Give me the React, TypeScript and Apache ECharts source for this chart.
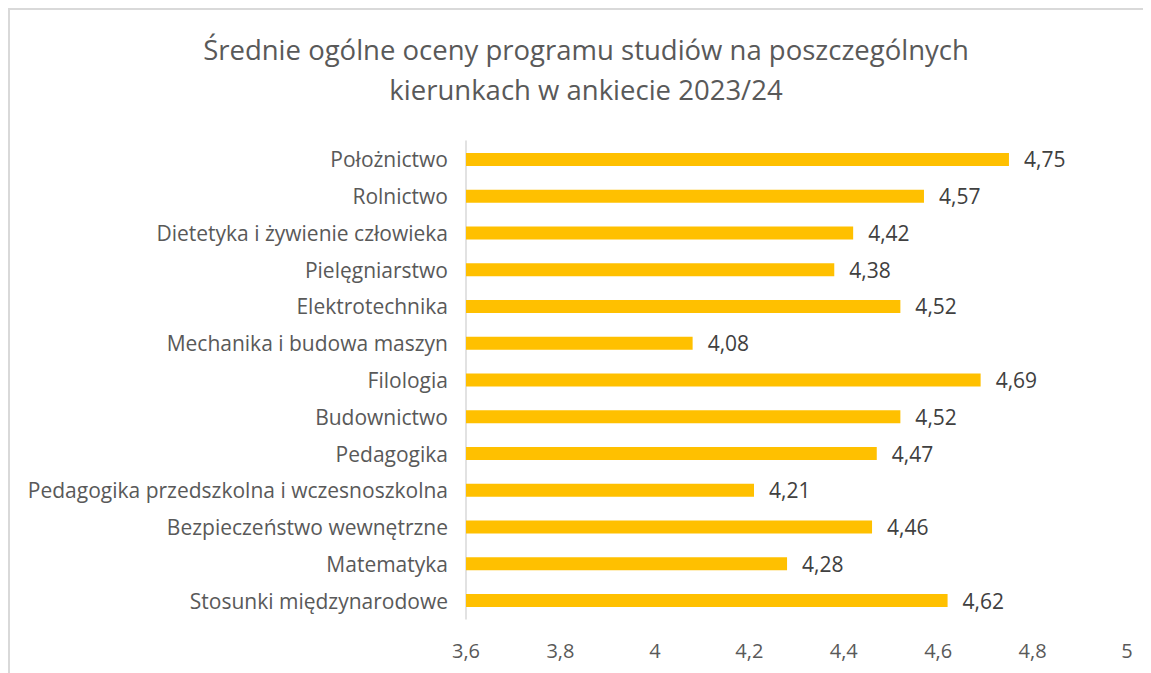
import React, { useEffect, useRef } from "react";
import * as echarts from "echarts";

const titleLines = [
  "Średnie ogólne oceny programu studiów na poszczególnych",
  "kierunkach w ankiecie 2023/24",
];

const categories = [
  "Położnictwo",
  "Rolnictwo",
  "Dietetyka i żywienie człowieka",
  "Pielęgniarstwo",
  "Elektrotechnika",
  "Mechanika i budowa maszyn",
  "Filologia",
  "Budownictwo",
  "Pedagogika",
  "Pedagogika przedszkolna i wczesnoszkolna",
  "Bezpieczeństwo wewnętrzne",
  "Matematyka",
  "Stosunki międzynarodowe",
];

const values = [4.75, 4.57, 4.42, 4.38, 4.52, 4.08, 4.69, 4.52, 4.47, 4.21, 4.46, 4.28, 4.62];

const axisMin = 3.6;
const axisMax = 5;
const axisStep = 0.2;

const FONT = "Open Sans";
const fmt = (v: number) => String(Math.round(v * 100) / 100).replace(".", ",");

export default function App() {
  const ref = useRef<HTMLDivElement>(null);
  useEffect(() => {
    if (!ref.current) return;
    const chart = echarts.init(ref.current, undefined, { renderer: "svg" });
    chart.setOption({
      animation: false,
      backgroundColor: "#ffffff",
      title: {
        text: titleLines.join("\n"),
        left: 571,
        top: 14,
        textAlign: "center",
        textStyle: {
          fontFamily: FONT,
          fontSize: 27.5,
          fontWeight: "normal",
          color: "#595959",
          lineHeight: 40,
        },
      },
      grid: { left: 456, right: 24, top: 131, bottom: 54, containLabel: false },
      xAxis: {
        type: "value",
        min: axisMin,
        max: axisMax,
        interval: axisStep,
        axisLine: { show: false },
        axisTick: { show: false },
        splitLine: { show: false },
        axisLabel: {
          formatter: (v: number) => fmt(v),
          fontFamily: FONT,
          fontSize: 20,
          color: "#595959",
          margin: 21,
        },
      },
      yAxis: {
        type: "category",
        data: categories,
        inverse: true,
        axisLine: { show: true, lineStyle: { color: "#d9d9d9", width: 1.5 } },
        axisTick: { show: false },
        axisLabel: {
          fontFamily: FONT,
          fontSize: 21,
          color: "#595959",
          margin: 18,
        },
      },
      series: [
        {
          type: "bar",
          data: values,
          barWidth: 13,
          itemStyle: { color: "#FFC000" },
          label: {
            show: true,
            position: "right",
            distance: 15,
            formatter: (p: any) => fmt(p.value),
            fontFamily: FONT,
            fontSize: 21,
            color: "#404040",
          },
        },
      ],
    });
    return () => chart.dispose();
  }, []);
  return (
    <div
      style={{
        width: 1143,
        height: 665,
        borderLeft: "2px solid #d9d9d9",
        borderTop: "2px solid #d9d9d9",
        boxSizing: "border-box",
      }}
    >
      <div ref={ref} style={{ width: 1141, height: 663 }} />
    </div>
  );
}
